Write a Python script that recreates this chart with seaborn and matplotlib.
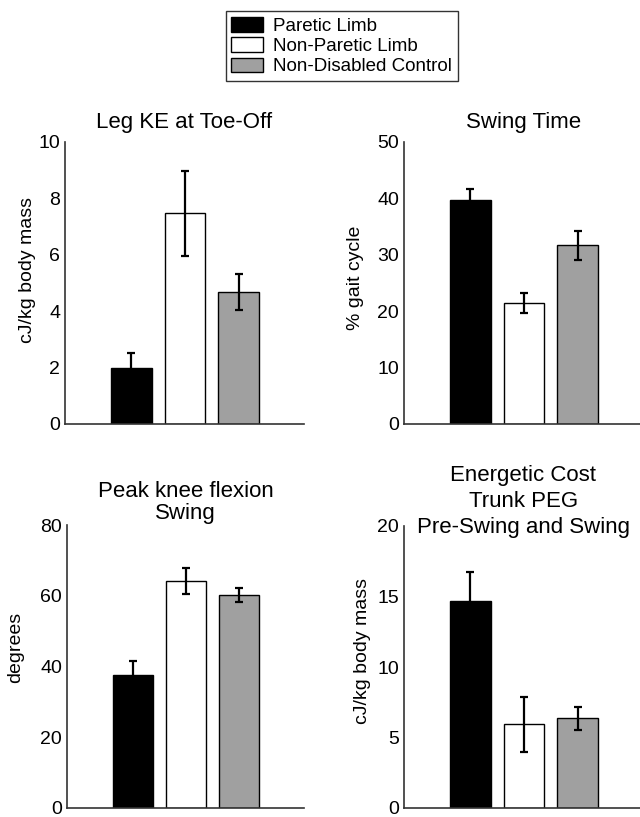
import numpy as np
import pandas as pd
import matplotlib
matplotlib.use('Agg')
import matplotlib.pyplot as plt
from matplotlib.patches import Patch
import seaborn as sns

# groups and colours
groups = ['Paretic Limb', 'Non-Paretic Limb', 'Non-Disabled Control']
colors = ['black', 'white', '#a0a0a0']

# panel values (mean, error)
ke_mean = [2.0, 7.47, 4.68]
ke_err = [0.51, 1.5, 0.65]
swing_mean = [39.8, 21.5, 31.7]
swing_err = [1.9, 1.8, 2.6]
knee_mean = [37.5, 64.1, 60.3]
knee_err = [4.1, 3.7, 2.0]
cost_mean = [14.68, 5.94, 6.36]
cost_err = [2.05, 1.95, 0.83]

sns.set_style('white')
plt.rcParams['font.family'] = ['Liberation Sans', 'DejaVu Sans']
plt.rcParams['text.color'] = 'black'
plt.rcParams['axes.labelcolor'] = 'black'
plt.rcParams['ytick.color'] = 'black'
plt.rcParams['xtick.color'] = 'black'

fig = plt.figure(figsize=(6.4, 8.17), dpi=100)

panels = [
    # axes rect, title, ylabel, means, errors, yticks, title pad, line spacing, ylabel pos
    ([65/640, 393/817, 239/640, 282/817], 'Leg KE at Toe-Off', 'cJ/kg body mass',
     ke_mean, ke_err, [0, 2, 4, 6, 8, 10], 10, 1.15, (-0.155, 0.546)),
    ([404/640, 393/817, 239/640, 282/817], 'Swing Time', '% gait cycle',
     swing_mean, swing_err, [0, 10, 20, 30, 40, 50], 10, 1.15, (-0.201, 0.52)),
    ([67/640, 9/817, 237/640, 283/817], 'Peak knee flexion\nSwing', 'degrees',
     knee_mean, knee_err, [0, 20, 40, 60, 80], 4, 1.1, (-0.216, 0.569)),
    ([404/640, 9/817, 239/640, 282/817], 'Energetic Cost\nTrunk PEG\nPre-Swing and Swing', 'cJ/kg body mass',
     cost_mean, cost_err, [0, 5, 10, 15, 20], -5, 1.3, (-0.172, 0.555)),
]

for rect, title, ylabel, means, errs, yticks, tpad, lsp, lpos in panels:
    ax = fig.add_axes(rect)
    df = pd.DataFrame({'group': groups, 'value': means})
    sns.barplot(data=df, x='group', y='value', hue='group', palette=colors,
                width=0.76, edgecolor='black', linewidth=1, legend=False, ax=ax)
    ax.errorbar(np.arange(len(means)), means, yerr=errs, fmt='none', ecolor='black',
                elinewidth=1.6, capsize=2.6, capthick=1.6, zorder=5)
    ax.set_xlim(-1.24, 3.22)
    ax.set_ylim(yticks[0], yticks[-1])
    ax.set_yticks(yticks)
    ax.set_xticks([])
    ax.set_xlabel('')
    ax.tick_params(axis='y', direction='in', length=3, width=1, pad=3.5,
                   labelsize=14, color='#333333')
    ax.set_title(title, fontsize=16, pad=tpad, linespacing=lsp, y=1.0)
    ax.set_ylabel(ylabel, fontsize=14, va='center')
    ax.yaxis.set_label_coords(*lpos)
    for side in ['top', 'right']:
        ax.spines[side].set_visible(False)
    for side in ['left', 'bottom']:
        ax.spines[side].set_color('#333333')
        ax.spines[side].set_linewidth(1.2)

handles = [Patch(facecolor=c, edgecolor='black', linewidth=1) for c in colors]
leg = fig.legend(handles, groups, loc='upper center', bbox_to_anchor=(0.534, 0.986),
                 fontsize=13.5, frameon=True, fancybox=False, edgecolor='black',
                 handlelength=1.7, handleheight=0.85, labelspacing=0.12,
                 handletextpad=0.55, borderpad=0.3, borderaxespad=0)
leg.get_frame().set_linewidth(1)

fig.savefig('out.png', dpi=100)
